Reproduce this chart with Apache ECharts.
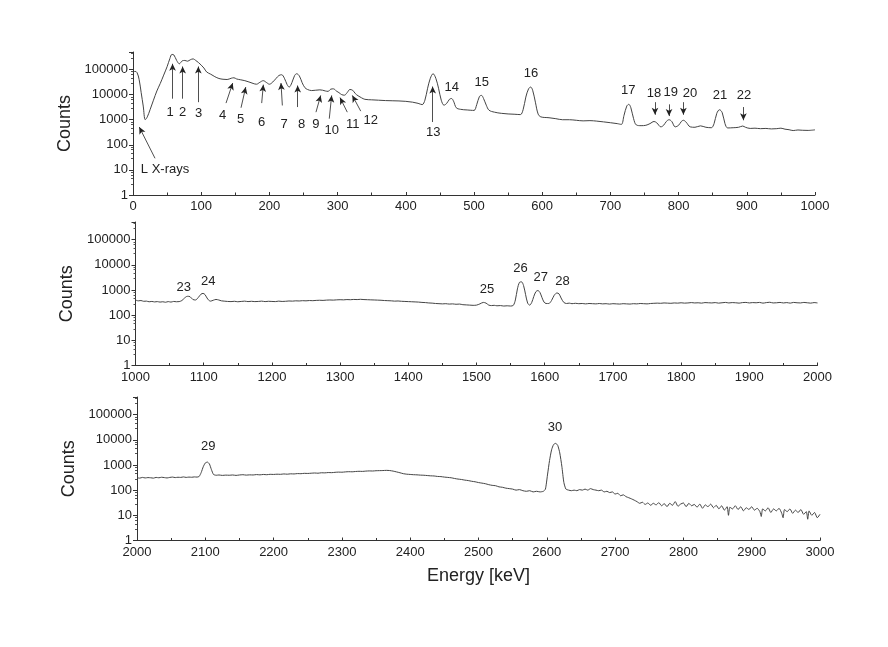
<!DOCTYPE html>
<html><head><meta charset="utf-8">
<script src="https://cdn.jsdelivr.net/npm/echarts@6/dist/echarts.min.js"></script>
<style>html,body{margin:0;padding:0;background:#fff}#c{width:888px;height:647px}</style>
</head><body><div id="c"></div>
<script>
// ---------- Panel 1: 0-1000 keV ----------
const energy1 = [0,3,6,9,12,15,18,21,25,30,35,40,45,50,54,57,60,64,68,72,76,80,84,88,92,96,100,104,108,114,120,126,132,138,144,148,152,158,164,170,176,181,186,191,196,200,205,210,214,218,222,226,229,233,237,240,244,248,252,256,262,268,274,278,282,286,290,294,298,302,306,310,314,318,322,326,330,335,340,350,360,370,380,390,400,410,418,424,428,432,436,440,444,448,452,456,460,464,467,470,474,480,490,500,504,508,511,514,518,522,530,540,550,560,568,572,576,580,583,586,590,594,598,610,620,630,640,650,660,670,680,690,700,710,716,720,724,727,730,734,738,745,752,758,764,768,774,778,782,786,790,795,800,804,807,811,817,824,832,840,848,852,856,860,864,868,872,880,888,894,898,905,912,920,928,936,944,950,956,962,968,975,982,990,1000];
const counts1 = [75000,85000,75000,40000,12000,3500,1000,1300,2500,6000,14000,28000,60000,130000,270000,400000,380000,230000,170000,220000,230000,215000,245000,265000,230000,190000,150000,115000,80000,65000,52000,44000,41000,40000,45000,47000,42000,39000,36000,32000,28000,26000,31000,36000,30000,26000,32000,45000,58000,62000,45000,25000,20000,30000,58000,68000,55000,30000,19000,16000,14500,15000,15500,15000,14000,13500,16500,17000,14000,12000,10000,9500,12000,16000,15000,11000,9000,7500,6500,6200,6000,5800,5700,5600,5400,5000,4500,4000,6000,18000,45000,68000,45000,18000,6000,3800,4500,6500,7000,5500,3000,2600,2450,2350,4000,8500,9300,7000,3800,2400,2000,1800,1700,1650,1600,2500,8000,17000,20000,15000,5000,1700,1300,1200,1100,1000,1000,950,900,920,880,820,760,700,650,1500,3500,4100,3000,1100,620,580,600,700,850,750,520,600,850,1000,850,520,600,850,950,800,520,500,570,500,480,700,1800,2500,1900,700,470,480,500,560,500,450,460,440,450,430,440,460,420,400,370,390,380,375,395];

// ---------- Panel 2: 1000-2000 keV ----------
const energy2 = [1000,1004,1008,1012,1016,1020,1024,1028,1032,1036,1040,1044,1048,1052,1056,1060,1064,1068,1072,1076,1080,1084,1088,1092,1096,1099,1102,1106,1110,1114,1118,1122,1126,1130,1135,1140,1145,1150,1155,1160,1165,1170,1175,1180,1185,1190,1195,1200,1205,1210,1215,1220,1225,1230,1235,1240,1245,1250,1255,1260,1265,1270,1275,1280,1285,1290,1295,1300,1305,1310,1315,1320,1325,1330,1335,1340,1345,1350,1355,1360,1365,1370,1375,1380,1385,1390,1395,1400,1405,1410,1415,1420,1425,1430,1435,1440,1445,1450,1455,1460,1465,1470,1475,1480,1485,1490,1495,1500,1505,1510,1514,1518,1522,1526,1530,1535,1540,1545,1550,1554,1557,1560,1563,1566,1569,1572,1575,1578,1581,1584,1587,1590,1593,1596,1599,1602,1606,1610,1614,1618,1621,1624,1628,1632,1636,1640,1645,1650,1655,1660,1665,1670,1675,1680,1685,1690,1695,1700,1705,1710,1715,1720,1725,1730,1735,1740,1745,1750,1755,1760,1765,1770,1775,1780,1785,1790,1795,1800,1805,1810,1815,1820,1825,1830,1835,1840,1845,1850,1855,1860,1865,1870,1875,1880,1885,1890,1895,1900,1905,1910,1915,1920,1925,1930,1935,1940,1945,1950,1955,1960,1965,1970,1975,1980,1985,1990,1995,2000];
const counts2 = [400,370,380,355,360,340,350,335,345,330,340,325,345,330,350,340,345,380,480,560,540,420,400,500,680,730,650,430,360,390,420,400,370,360,350,345,355,340,350,360,345,355,345,350,360,345,355,350,345,360,350,355,365,360,370,365,375,370,380,375,385,390,385,395,400,395,405,410,405,415,410,420,415,425,415,410,405,400,395,390,380,375,370,360,365,355,350,345,340,335,330,320,315,305,300,290,285,280,285,275,280,270,275,260,255,250,245,250,280,320,300,250,240,245,235,240,230,235,230,245,400,1100,2000,2100,1500,650,300,250,320,550,850,950,800,500,330,290,290,380,620,760,700,480,320,290,300,285,295,285,290,280,290,285,280,290,280,285,275,285,280,275,285,280,275,285,280,290,285,280,290,295,300,295,305,300,295,305,300,310,300,305,315,305,310,300,315,310,305,315,300,310,320,305,315,310,300,315,320,305,315,310,320,300,315,325,305,310,320,305,315,300,320,310,305,320,310,300,315,305];

// ---------- Panel 3: 2000-3000 keV ----------
const energy3 = [2000,2004,2008,2012,2016,2020,2024,2028,2032,2036,2040,2044,2048,2052,2056,2060,2064,2068,2072,2076,2080,2084,2088,2091,2094,2097,2100,2103,2106,2109,2112,2116,2120,2125,2130,2135,2140,2145,2150,2155,2160,2165,2170,2175,2180,2185,2190,2195,2200,2205,2210,2215,2220,2225,2230,2235,2240,2245,2250,2255,2260,2265,2270,2275,2280,2285,2290,2295,2300,2305,2310,2315,2320,2325,2330,2335,2340,2345,2350,2355,2360,2365,2370,2375,2380,2385,2390,2395,2400,2405,2410,2415,2420,2425,2430,2435,2440,2445,2450,2455,2460,2465,2470,2475,2480,2485,2490,2495,2500,2505,2510,2515,2520,2525,2530,2535,2540,2545,2550,2555,2560,2565,2570,2575,2580,2585,2590,2595,2598,2601,2604,2607,2610,2613,2616,2619,2622,2625,2628,2632,2636,2640,2644,2648,2652,2656,2660,2664,2668,2672,2676,2680,2684,2688,2692,2696,2700,2704,2708,2712,2716,2720,2724,2728,2732,2736,2740,2744,2748,2752,2756,2760,2764,2768,2772,2776,2780,2784,2788,2792,2796,2800,2804,2808,2812,2816,2820,2824,2828,2832,2836,2840,2844,2848,2852,2856,2860,2864,2866,2868,2872,2876,2880,2884,2888,2892,2896,2900,2904,2908,2912,2914,2916,2920,2924,2928,2932,2936,2940,2944,2946,2948,2952,2956,2960,2964,2968,2972,2976,2980,2982,2984,2988,2992,2996,3000];
const counts3 = [310,300,320,305,315,310,300,320,310,325,315,305,320,330,315,325,320,335,320,330,325,335,330,350,500,850,1200,1300,1100,650,420,390,400,385,395,390,400,385,400,410,395,405,400,415,405,420,410,425,420,430,425,440,430,445,440,455,450,465,460,470,480,470,490,485,500,495,510,520,515,530,540,535,550,560,555,570,580,575,590,595,600,610,600,570,530,490,450,430,420,410,405,395,390,380,370,365,350,345,330,320,310,290,275,265,250,240,225,215,200,190,180,165,155,150,135,130,120,115,110,100,105,95,90,95,85,90,85,90,110,400,1500,4000,6500,7200,6000,3000,900,200,110,100,95,100,95,105,100,110,100,115,105,100,95,100,85,90,80,85,70,75,60,65,55,50,45,40,35,30,33,27,31,25,30,26,32,24,29,22,30,25,35,23,28,31,22,30,24,27,21,28,19,26,22,28,20,25,18,24,16,22,10,21,18,24,17,22,15,20,17,22,16,19,14,9,18,15,20,13,18,15,19,12,8,17,14,18,12,16,13,17,11,14,7,15,10,13,8,11];

// ---------- Annotations ----------
const labelText1 = ['1','2','3','4','5','6','7','8','9','10','11','12','13','14','15','16','17','18','19','20','21','22','L X-rays'];
const labelE1 = [54.3,72.9,96.3,131.5,157.9,188.7,221.4,247.4,268.3,291.3,322.1,348.5,440.3,467.3,511.3,583.6,726.2,764,788.4,816.7,860.7,895.9,47];
const labelC1 = [2030,2030,1790,1490,1000,810,640,640,640,380,640,950,325,20000,29500,68000,14700,11500,12200,11500,9300,9300,10];
const arrowFrom1 = [[58,6900],[72.8,6900],[95.8,5000],[136.4,4600],[158.4,3000],[188.7,4600],[219,3700],[241.5,3200],[268.3,2000],[287.8,1100],[314.2,2000],[333.9,2200],[439.4,810],[765.4,5000],[786,4100],[807,5000],[895,3200],[32.3,29]];
const arrowTo1 = [[58,170000],[72.8,132000],[95.8,132000],[146.2,29000],[165.3,20000],[191.1,25000],[217,29000],[241.5,23000],[275.2,9300],[291.3,9300],[303.5,7600],[321.6,9300],[439.4,21000],[765.4,1580],[786,1400],[807,1580],[895,950],[9.2,510]];

const labelText2 = ['23','24','25','26','27','28'];
const labelE2 = [1070.8,1106.5,1515.5,1564.5,1594.3,1626];
const labelC2 = [1320,2090,1050,7080,3100,2090];

const labelText3 = ['29','30'];
const labelE3 = [2104.4,2612];
const labelC3 = [5600,30000];

const yTicks = [1,10,100,1000,10000,100000];

// ---------- Build ----------
const FONT = 'Liberation Sans, Arial, Helvetica, sans-serif';
const INK = '#222';
const chart = echarts.init(document.getElementById('c'), null, {renderer:'canvas'});
const grids = [
  {left:133, top:52, width:682, height:143},
  {left:135.5, top:222, width:682, height:143.5},
  {left:137, top:397, width:683, height:143.5}
];
const ranges = [[0,1000],[1000,2000],[2000,3000]];

function pairs(e,c){return e.map((x,i)=>[x,c[i]]);}
function labelPoints(t,e,c){
  return t.map((s,i)=>({name:s, coord:[e[i],c[i]]}));
}
function arrows(f,t){
  return f.map((p,i)=>[{coord:p, symbol:'none'},{coord:t[i], symbol:'arrow', symbolSize:[5,7]}]);
}

const xAxes = ranges.map((r,i)=>({
  type:'value', gridIndex:i, min:r[0], max:r[1], interval:100,
  axisLine:{show:true, onZero:false, lineStyle:{color:'#333', width:1}},
  axisTick:{show:true, inside:true, length:3, lineStyle:{color:'#333'}},
  minorTick:{show:true, splitNumber:2, length:2.5, lineStyle:{color:'#333'}},
  splitLine:{show:false}, minorSplitLine:{show:false},
  axisLabel:{color:INK, fontSize:13, fontFamily:FONT, margin:5,
    formatter:v=>String(v)},
  name: i===2 ? 'Energy [keV]' : '',
  nameLocation:'middle', nameGap:27,
  nameTextStyle:{color:INK, fontSize:18, fontFamily:FONT}
}));

const yAxes = ranges.map((r,i)=>({
  type:'log', logBase:10, gridIndex:i, min:1, max:500000,
  axisLine:{show:true, lineStyle:{color:'#333', width:1}},
  axisTick:{show:true, inside:false, length:4, lineStyle:{color:'#333'}},
  minorTick:{show:true, splitNumber:5, length:2, lineStyle:{color:'#555'}},
  splitLine:{show:false}, minorSplitLine:{show:false},
  axisLabel:{color:INK, fontSize:13, fontFamily:FONT, margin:5,
    showMaxLabel:false,
    formatter:v=>{ for (const t of yTicks) { if (Math.abs(v-t) < t*1e-6) return String(t);} return ''; }},
  name:'Counts', nameLocation:'middle', nameGap:58,
  nameTextStyle:{color:INK, fontSize:18, fontFamily:FONT}
}));

const lineStyle = {color:'#444', width:1};
const mpLabel = {show:true, position:'inside', color:INK, fontSize:13, fontFamily:FONT, formatter:p=>p.name};
const mpBase = {symbol:'circle', symbolSize:1, itemStyle:{color:'rgba(0,0,0,0)'}, label:mpLabel, silent:true};

const series = [
  {type:'line', xAxisIndex:0, yAxisIndex:0, data:pairs(energy1,counts1), showSymbol:false, smooth:0.35,
   lineStyle, animation:false,
   markPoint:Object.assign({data:labelPoints(labelText1,labelE1,labelC1)}, mpBase),
   markLine:{silent:true, symbol:['none','arrow'], symbolSize:7, label:{show:false},
     lineStyle:{color:'#222', width:0.8, type:'solid'}, itemStyle:{color:'#222'},
     data:arrows(arrowFrom1,arrowTo1), animation:false}},
  {type:'line', xAxisIndex:1, yAxisIndex:1, data:pairs(energy2,counts2), showSymbol:false, smooth:0.3,
   lineStyle, animation:false,
   markPoint:Object.assign({data:labelPoints(labelText2,labelE2,labelC2)}, mpBase)},
  {type:'line', xAxisIndex:2, yAxisIndex:2, data:pairs(energy3,counts3), showSymbol:false, smooth:0.2,
   lineStyle, animation:false,
   markPoint:Object.assign({data:labelPoints(labelText3,labelE3,labelC3)}, mpBase)}
];

chart.setOption({
  animation:false,
  backgroundColor:'#fff',
  grid:grids.map(g=>Object.assign({containLabel:false, outerBoundsMode:'none'}, g)),
  xAxis:xAxes, yAxis:yAxes, series
});
</script></body></html>
